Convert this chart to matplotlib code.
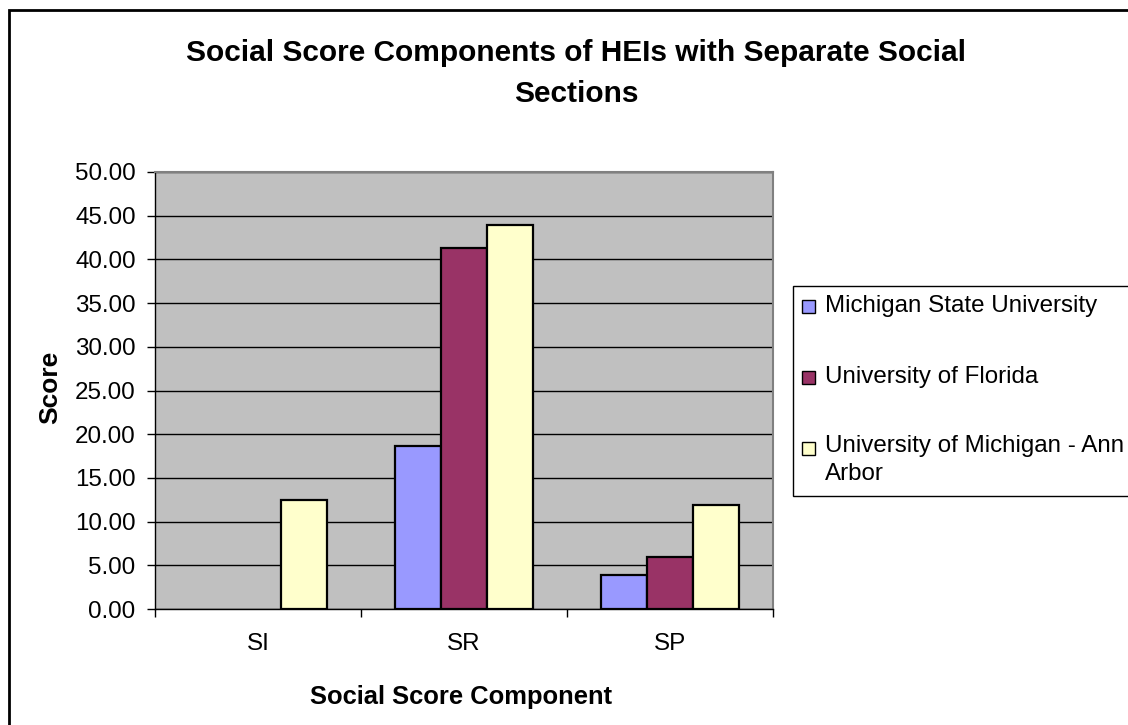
import matplotlib
matplotlib.use("Agg")
import matplotlib.pyplot as plt
from matplotlib.patches import Rectangle
import numpy as np

plt.rcParams['font.family'] = ['Liberation Sans', 'DejaVu Sans']

categories = ["SI", "SR", "SP"]
series_names = ["Michigan State University", "University of Florida",
                "University of Michigan - Ann\nArbor"]
msu = [0.0, 18.6, 3.9]
uf = [0.0, 41.3, 6.0]
umich = [12.5, 43.9, 11.9]
series_values = [msu, uf, umich]
colors = ["#9999FF", "#993366", "#FFFFCC"]
y_ticks = [0, 5, 10, 15, 20, 25, 30, 35, 40, 45, 50]

W, H = 1128, 725
fig = plt.figure(figsize=(W / 100, H / 100), dpi=100)

def fx(px):
    return px / W

def fy(py):
    return 1 - py / H

# outer border
fig.patches.append(Rectangle((fx(9), fy(740)), fx(1140) - fx(9), fy(10) - fy(740),
                             transform=fig.transFigure, fill=False,
                             edgecolor='black', linewidth=2, zorder=0))

left, right, top, bottom = 155, 773, 172, 609
ax = fig.add_axes([fx(left), fy(bottom), fx(right) - fx(left), fy(top) - fy(bottom)])
ax.set_facecolor("#C0C0C0")

x = np.arange(len(categories))
bw = 1 / 4.5
for i, (vals, c) in enumerate(zip(series_values, colors)):
    xs = x + (i - 1) * bw
    hv = [v if v > 0 else np.nan for v in vals]
    ax.bar(xs, hv, width=bw, color=c, edgecolor='black', linewidth=1.6, zorder=3)

TICK_FS = 17.4
ax.set_xlim(-0.5, len(categories) - 0.5)
ax.set_ylim(0, 50)
ax.set_yticks(y_ticks)
ax.set_yticklabels([f"{v:.2f}" for v in y_ticks], fontsize=TICK_FS)
ax.yaxis.grid(True, color='black', linewidth=1, zorder=1)
ax.set_axisbelow(True)
ax.set_xticks(np.arange(-0.5, len(categories)), minor=False)
ax.set_xticklabels([])
ax.set_xticks(x, minor=True)
ax.set_xticklabels(categories, minor=True, fontsize=TICK_FS)
ax.tick_params(axis='x', which='minor', length=0, pad=17)
ax.tick_params(axis='x', which='major', length=6, width=1, color='black')
ax.tick_params(axis='y', length=6, width=1, pad=8)
for s in ['top', 'right']:
    ax.spines[s].set_color('#808080')
    ax.spines[s].set_linewidth(1.5)
for s in ['left', 'bottom']:
    ax.spines[s].set_color('black')
    ax.spines[s].set_linewidth(1)

fig.text(fx(576), fy(53), "Social Score Components of HEIs with Separate Social",
         ha='center', va='center', fontsize=21.5, fontweight='bold')
fig.text(fx(576), fy(94), "Sections", ha='center', va='center',
         fontsize=21.5, fontweight='bold')
fig.text(fx(461), fy(697), "Social Score Component", ha='center', va='center',
         fontsize=18.4, fontweight='bold')
fig.text(fx(50), fy(387), "Score", ha='center', va='center', rotation=90,
         fontsize=19, fontweight='bold')

# legend box
fig.patches.append(Rectangle((fx(793), fy(496)), fx(1140) - fx(793), fy(286) - fy(496),
                             transform=fig.transFigure, facecolor='white',
                             edgecolor='black', linewidth=1, zorder=1))
row_y = [306, 377, 448]
for name, c, ry in zip(series_names, colors, row_y):
    fig.patches.append(Rectangle((fx(802), fy(ry + 7)), fx(13) - fx(0), fy(ry - 6) - fy(ry + 7),
                                 transform=fig.transFigure, facecolor=c,
                                 edgecolor='black', linewidth=1, zorder=2))
    if '\n' in name:
        fig.text(fx(825), fy(ry - 13), name, ha='left', va='top',
                 fontsize=TICK_FS, linespacing=1.38, zorder=3)
    else:
        fig.text(fx(825), fy(ry), name, ha='left', va='center',
                 fontsize=TICK_FS, zorder=3)

fig.savefig("out.png", dpi=100)
